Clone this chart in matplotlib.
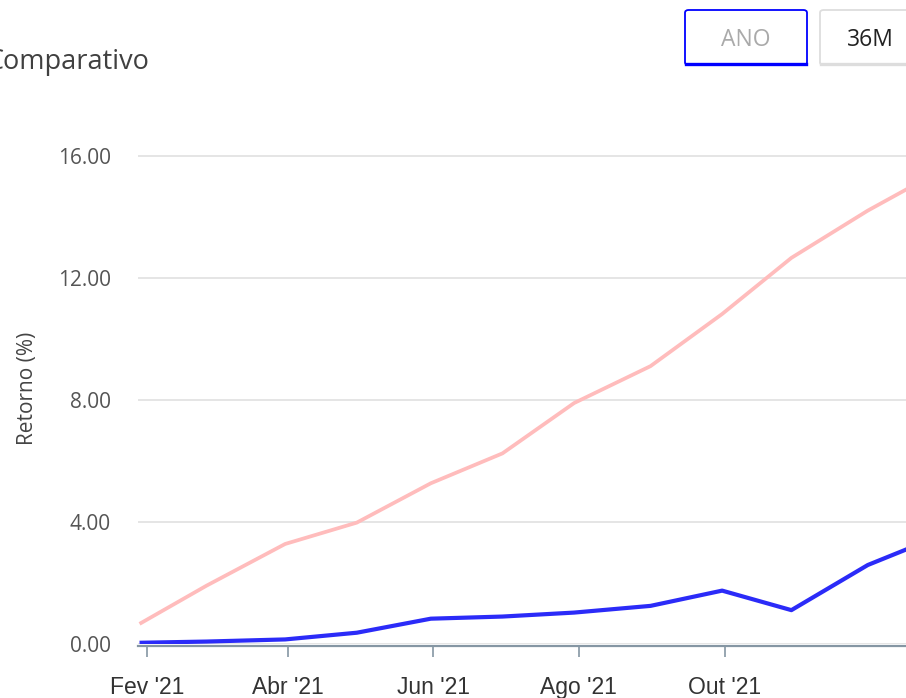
"Comparativo de retorno acumulado"
import datetime as dt

import matplotlib
matplotlib.use('Agg')
import matplotlib.pyplot as plt
import matplotlib.dates as mdates
from matplotlib.patches import FancyBboxPatch

# fechamentos mensais
dates = ['2021-01-29', '2021-02-26', '2021-03-31', '2021-04-30', '2021-05-31',
         '2021-06-30', '2021-07-30', '2021-08-31', '2021-09-30', '2021-10-29',
         '2021-11-30', '2021-12-30']
fundo = [0.04, 0.08, 0.15, 0.37, 0.83, 0.90, 1.03, 1.25, 1.75, 1.11, 2.59, 3.54]
indice = [0.66, 1.91, 3.28, 3.98, 5.27, 6.25, 7.90, 9.11, 10.82, 12.66, 14.21, 15.50]

tick_dates = ['2021-02-01', '2021-04-01', '2021-06-01', '2021-08-01', '2021-10-01']
tick_labels = ["Fev '21", "Abr '21", "Jun '21", "Ago '21", "Out '21"]
y_ticks = [0, 4, 8, 12, 16]

W, H = 906, 698


def to_num(s):
    return mdates.date2num(dt.datetime.strptime(s, '%Y-%m-%d'))


def button(fig, x0, y0, w, h, edge, label, color):
    "draw a toggle button in pixel coords (top-left origin)"
    box = FancyBboxPatch((x0 / W, 1 - (y0 + h) / H), w / W, h / H,
                         boxstyle='round,pad=0,rounding_size=0.004',
                         transform=fig.transFigure, facecolor='white',
                         edgecolor=edge, linewidth=1.3)
    fig.patches.append(box)
    # thicker bottom border
    fig.add_artist(plt.Line2D([(x0 + 1) / W, (x0 + w - 1) / W],
                              [1 - (y0 + h - 1) / H] * 2, color=edge, lw=2.4,
                              transform=fig.transFigure))
    fig.text((x0 + w / 2) / W, 1 - (y0 + h / 2 + 2) / H, label, ha='center', va='center',
             fontsize=16.5, color=color, family='Open Sans')


def main():
    fig = plt.figure(figsize=(W / 100, H / 100), dpi=100)
    fig.patch.set_facecolor('white')

    left, right, bottom, top = 137.5, 906, 644, 125.5
    ax = fig.add_axes([left / W, 1 - bottom / H, (right - left) / W, (bottom - top) / H])

    xs = [to_num(d) for d in dates]
    ax.plot(xs, indice, color='#ffbcbc', lw=2.7, solid_capstyle='butt', zorder=3)
    ax.plot(xs, fundo, color='#2b2bf8', lw=3.0, solid_capstyle='butt', zorder=4)

    feb = to_num('2021-02-01')
    ax.set_xlim(feb - 3.85, feb + 318)
    ax.set_ylim(0, 17)

    ax.set_xticks([to_num(d) for d in tick_dates])
    ax.set_xticklabels(tick_labels)
    ax.set_yticks(y_ticks)
    ax.set_yticklabels(['%.2f' % v for v in y_ticks])
    ax.tick_params(axis='y', length=0, pad=19, labelsize=15, labelcolor='#555555',
                   labelfontfamily='Open Sans')
    ax.tick_params(axis='x', length=8, width=1.2, color='#8596a3', pad=13.5, direction='out',
                   labelsize=16.5, labelcolor='#333333', labelfontfamily='Liberation Sans')

    ax.grid(axis='y', color='#e3e3e3', lw=1.3)
    ax.set_axisbelow(True)
    for side in ('top', 'right', 'left'):
        ax.spines[side].set_visible(False)
    ax.spines['bottom'].set_color('#8596a3')
    ax.spines['bottom'].set_linewidth(1.6)
    ax.spines['bottom'].set_position(('outward', 1.5))

    fig.text(28 / W, 1 - 388 / H, 'Retorno (%)', rotation=90, ha='center', va='center',
             family='Open Sans', fontsize=15, color='#444444')
    fig.text(-14 / W, 1 - 62 / H, 'Comparativo', ha='left', va='center',
             family='Open Sans', fontsize=19.5, color='#404040')

    button(fig, 685, 10, 122, 55, '#0000ff', 'ANO', '#aaaaaa')
    button(fig, 820, 10, 100, 55, '#dddddd', '36M', '#222222')

    fig.savefig('out.png', dpi=100)


if __name__ == '__main__':
    main()
